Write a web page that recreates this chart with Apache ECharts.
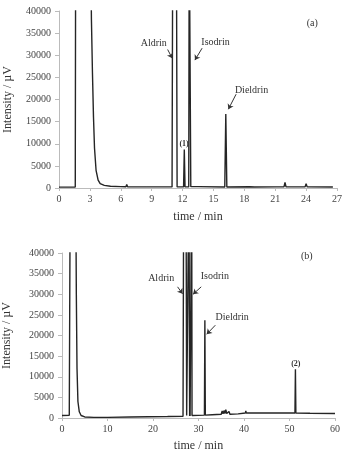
<!DOCTYPE html>
<html>
<head>
    <meta charset="UTF-8">
    <title>Chromatograms</title>
    <script src="https://cdn.jsdelivr.net/npm/echarts/dist/echarts.min.js"></script>
    <style>
        html, body { margin: 0; padding: 0; background: #fff; }
        #main { width: 343px; height: 451px; }
    </style>
</head>
<body>
    <div id="main"></div>
    <script>
        // panel (a): retention time (min) and detector signal (uV)
        var timesA = [0, 1.58, 1.62, 3.05, 3.15, 3.25, 3.35, 3.45, 3.6, 3.8, 4.0, 4.4, 5.0, 6.0, 6.5, 6.58, 6.66,
            8.5, 8.6, 8.7, 10.98, 11.05, 11.4, 11.47, 12.1, 12.17, 12.24, 12.6, 12.65, 12.74, 12.8, 13.5,
            16.1, 16.2, 16.3, 18.5, 19, 21.1, 21.2, 21.3, 21.85, 21.95, 22.05, 23.9, 24.0, 24.1, 26.6];
        var signalA = [200, 200, 60000, 60000, 38000, 26000, 16000, 9000, 4000, 1800, 1000, 600, 400, 300, 280, 800, 280,
            250, 450, 250, 250, 60000, 60000, 250, 250, 8700, 250, 250, 60000, 60000, 300, 300,
            220, 16700, 220, 280, 220, 250, 600, 250, 250, 1250, 250, 250, 950, 250, 220];

        // panel (b)
        var timesB = [0, 1.6, 1.75, 1.82, 3.0, 3.15, 3.3, 3.5, 3.8, 4.2, 5, 7, 10, 15, 19.0, 19.2, 19.4,
            23.2, 23.4, 23.6, 26.6, 26.75, 27.25, 27.4, 27.8, 27.9, 27.97, 28.05, 28.1, 28.15, 28.5, 28.58, 29,
            31.3, 31.4, 31.5, 33.0, 33.1, 33.2, 35.0, 35.2, 35.4, 35.6, 35.8, 36.0, 36.2, 36.6, 36.7, 36.9,
            38.7, 38.8, 38.9, 40.3, 40.4, 40.5, 42.1, 42.2, 42.3, 44.2, 44.3, 44.4, 46.9, 47.0, 47.1,
            51.2, 51.3, 51.4, 54.5, 60];
        var signalB = [600, 650, 700, 60000, 60000, 30000, 12000, 4000, 1500, 600, 250, 150, 150, 250, 300, 700, 300,
            350, 550, 350, 400, 60000, 60000, 600, 500, 60000, 60000, 500, 10400, 500, 60000, 600, 500,
            700, 23700, 700, 800, 1000, 800, 900, 1700, 1000, 1800, 1100, 2000, 1100, 900, 1600, 900,
            1000, 1400, 1000, 1200, 1700, 1200, 1200, 1500, 1200, 1200, 1400, 1200, 1200, 1350, 1200,
            1200, 11800, 1200, 1150, 1100];

        var xTicksA = [0, 27, 3];   // min, max, interval
        var xTicksB = [0, 60, 10];
        var yTicks = [0, 40000, 5000];

        // peak labels: [text, time, intensity]
        var labelsA = [['Aldrin', 9.2, 32600], ['Isodrin', 15.2, 32800], ['Dieldrin', 18.7, 22000], ['(a)', 24.6, 37300]];
        var labelsB = [['Aldrin', 21.8, 33900], ['Isodrin', 33.6, 34300], ['Dieldrin', 37.4, 24400], ['(b)', 53.8, 39100]];
        var smallLabelsA = [['(1)', 12.15, 9900]];
        var smallLabelsB = [['(2)', 51.4, 13200]];
        // arrows: from -> to
        var arrowsA = [[[10.55, 31300], [11.0, 29300]], [[13.9, 31600], [13.2, 28900]], [[17.2, 21200], [16.45, 17800]]];
        var arrowsB = [[[25.4, 31800], [26.5, 30100]], [[30.6, 31800], [28.8, 30000]], [[33.7, 22500], [31.8, 20300]]];

        var serif = 'Liberation Serif';
        var ink = '#252525';

        function pairs(t, v) {
            return t.map(function (x, i) { return [x, v[i]]; });
        }

        function textMarks(list, size, bold) {
            return list.map(function (l) {
                return {
                    name: l[0], coord: [l[1], l[2]],
                    label: { fontSize: size, fontWeight: bold ? 'bold' : 'normal' }
                };
            });
        }

        function xAxis(idx, ticks, gap) {
            return {
                type: 'value', gridIndex: idx, min: ticks[0], max: ticks[1], interval: ticks[2],
                name: 'time / min', nameLocation: 'middle', nameGap: gap,
                nameTextStyle: { fontFamily: serif, fontSize: 12, color: '#333' },
                axisLine: { onZero: false, lineStyle: { color: '#bbb' } },
                axisTick: { length: 3, lineStyle: { color: '#bbb' } },
                axisLabel: { fontFamily: serif, fontSize: 10, color: '#444', margin: 6 },
                splitLine: { show: false }
            };
        }

        function yAxis(idx, gap) {
            return {
                type: 'value', gridIndex: idx, min: yTicks[0], max: yTicks[1], interval: yTicks[2],
                name: 'Intensity / \u00b5V', nameLocation: 'middle', nameGap: gap,
                nameMoveOverlap: false,
                nameTextStyle: { fontFamily: serif, fontSize: 12, color: '#333' },
                axisLine: { show: true, lineStyle: { color: '#bbb' } },
                axisTick: { show: true, length: 4, lineStyle: { color: '#bbb' } },
                axisLabel: {
                    fontFamily: serif, fontSize: 10, color: '#444', margin: 8,
                    formatter: function (v) { return String(v); }
                },
                splitLine: { show: false }
            };
        }

        function trace(idx, data, labels, small, arrows) {
            return {
                type: 'line', xAxisIndex: idx, yAxisIndex: idx,
                data: data, symbol: 'none', clip: true,
                lineStyle: { color: ink, width: 1.4 },
                markPoint: {
                    symbol: 'circle', symbolSize: 0, silent: true,
                    label: {
                        show: true, position: 'inside', formatter: '{b}',
                        fontFamily: serif, color: '#333'
                    },
                    data: textMarks(labels, 10, false).concat(textMarks(small, 8, true))
                },
                markLine: {
                    silent: true, symbol: ['none', 'arrow'], symbolSize: 5,
                    label: { show: false },
                    lineStyle: { color: '#333', width: 1, type: 'solid' },
                    data: arrows.map(function (a) { return [{ coord: a[0] }, { coord: a[1] }]; })
                }
            };
        }

        var myChart = echarts.init(document.getElementById('main'));
        myChart.setOption({
            animation: false,
            grid: [
                { left: 59, right: 6, top: 11, height: 177, outerBoundsMode: 'none' },
                { left: 62, right: 8, top: 253, height: 165, outerBoundsMode: 'none' }
            ],
            xAxis: [xAxis(0, xTicksA, 23), xAxis(1, xTicksB, 22)],
            yAxis: [yAxis(0, 45), yAxis(1, 49)],
            series: [
                trace(0, pairs(timesA, signalA), labelsA, smallLabelsA, arrowsA),
                trace(1, pairs(timesB, signalB), labelsB, smallLabelsB, arrowsB)
            ]
        });
    </script>
</body>
</html>
